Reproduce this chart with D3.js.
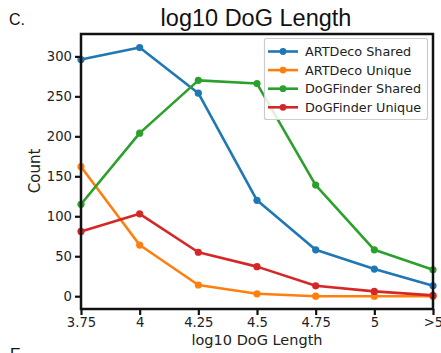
<!DOCTYPE html>
<html>
<head>
<meta charset="utf-8">
<script src="https://cdn.jsdelivr.net/npm/d3@7"></script>
<style>
  html, body { margin: 0; padding: 0; background: #fff; }
  svg { display: block; font-family: "DejaVu Sans", sans-serif; }
</style>
</head>
<body>
<svg id="chart" width="441" height="353"></svg>
<script>
// Length bins (log10 of DoG length) and counts per method/overlap group
const bins = ["3.75", "4", "4.25", "4.5", "4.75", "5", ">5"];
const artdecoShared   = [296, 311, 254, 120, 58, 34, 13];
const artdecoUnique   = [162, 64, 14, 3, 0, 0, 0];
const dogfinderShared = [115, 204, 270, 266, 139, 58, 33];
const dogfinderUnique = [81, 103, 55, 37, 13, 6, 1];
const yTicks = [0, 50, 100, 150, 200, 250, 300];

const seriesList = [
  { name: "ARTDeco Shared",   values: artdecoShared,   color: "#1f77b4" },
  { name: "ARTDeco Unique",   values: artdecoUnique,   color: "#ff7f0e" },
  { name: "DoGFinder Shared", values: dogfinderShared, color: "#2ca02c" },
  { name: "DoGFinder Unique", values: dogfinderUnique, color: "#d62728" }
];

const svg = d3.select("#chart");
const margin = { left: 81, right: 8, top: 34, bottom: 44 };
const W = 441, H = 353;
const x0 = margin.left, x1 = W - margin.right;
const y0 = H - margin.bottom, y1 = margin.top;

const x = d3.scalePoint().domain(bins).range([x0, x1]);
const y = d3.scaleLinear().domain([-16, 328]).range([y0, y1]);

// Series lines and markers
const line = d3.line().x((d, i) => x(bins[i])).y(d => y(d));
const plot = svg.append("g");
seriesList.forEach(s => {
  plot.append("path")
    .attr("d", line(s.values))
    .attr("fill", "none")
    .attr("stroke", s.color)
    .attr("stroke-width", 2.6)
    .attr("stroke-linejoin", "round");
  plot.selectAll(null).data(s.values).enter().append("circle")
    .attr("cx", (d, i) => x(bins[i]))
    .attr("cy", d => y(d))
    .attr("r", 3.6)
    .attr("fill", s.color);
});

// Frame
svg.append("rect")
  .attr("x", x0).attr("y", y1)
  .attr("width", x1 - x0).attr("height", y0 - y1)
  .attr("fill", "none").attr("stroke", "#111").attr("stroke-width", 2.5);

// Axes
const xAxis = svg.append("g").attr("transform", `translate(0,${y0})`)
  .call(d3.axisBottom(x).tickSize(6).tickPadding(3));
const yAxis = svg.append("g").attr("transform", `translate(${x0},0)`)
  .call(d3.axisLeft(y).tickValues(yTicks).tickSize(6).tickPadding(3));
[xAxis, yAxis].forEach(a => {
  a.select(".domain").remove();
  a.selectAll(".tick line").attr("stroke", "#111").attr("stroke-width", 2.2);
  a.selectAll(".tick text").attr("fill", "#222").style("font-size", "13.2px")
    .style("font-family", "DejaVu Sans, sans-serif");
});

// Titles and panel letters
svg.append("text").attr("x", 256).attr("y", 26).attr("text-anchor", "middle")
  .style("font-family", "Liberation Sans, Arial, sans-serif")
  .style("font-size", "23.5px").attr("fill", "#111").text("log10 DoG Length");
svg.append("text").attr("x", 9).attr("y", 25)
  .style("font-family", "Liberation Sans, Arial, sans-serif")
  .style("font-size", "16px").attr("fill", "#111").text("C.");
svg.append("text").attr("x", 10).attr("y", 360)
  .style("font-family", "Liberation Sans, Arial, sans-serif")
  .style("font-size", "16px").attr("fill", "#111").text("E.");
svg.append("text").attr("x", 257).attr("y", 345).attr("text-anchor", "middle")
  .style("font-size", "14.5px").attr("fill", "#222").text("log10 DoG Length");
svg.append("text").attr("transform", "translate(40,171) rotate(-90)")
  .attr("text-anchor", "middle")
  .style("font-size", "15px").attr("fill", "#222").text("Count");

// Legend
const lg = svg.append("g");
lg.append("rect").attr("x", 264.5).attr("y", 38.5).attr("width", 163).attr("height", 81)
  .attr("rx", 2).attr("fill", "rgba(255,255,255,0.85)").attr("stroke", "#ccc").attr("stroke-width", 1.2);
seriesList.forEach((s, i) => {
  const ly = 51.5 + i * 18.6;
  lg.append("line").attr("x1", 268).attr("x2", 298).attr("y1", ly).attr("y2", ly)
    .attr("stroke", s.color).attr("stroke-width", 2.6);
  lg.append("circle").attr("cx", 283).attr("cy", ly).attr("r", 3.4).attr("fill", s.color);
  lg.append("text").attr("x", 305).attr("y", ly + 4.5)
    .style("font-size", "12.8px").attr("fill", "#222").text(s.name);
});
</script>
</body>
</html>
